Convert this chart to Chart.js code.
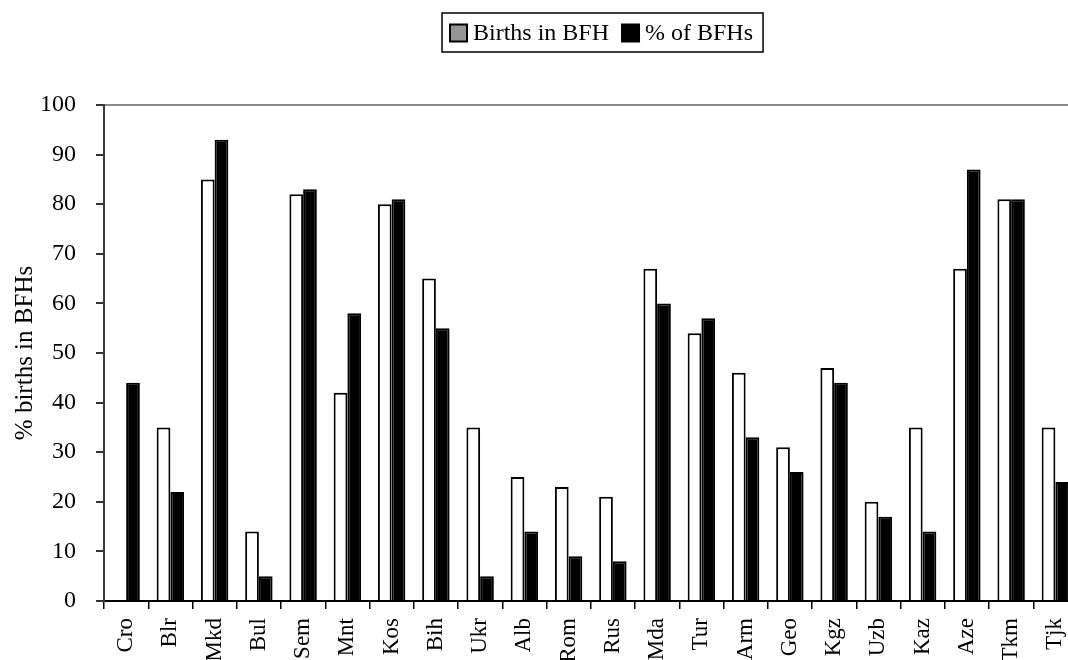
<!DOCTYPE html>
<html>
<head>
<meta charset="utf-8">
<script src="https://cdn.jsdelivr.net/npm/chart.js@4/dist/chart.umd.min.js"></script>
<style>
  html, body { margin: 0; padding: 0; background: #fff; overflow: hidden; }
  #wrap { width: 1068px; height: 660px; }
</style>
</head>
<body>
<div id="wrap"><canvas id="c" width="1068" height="660"></canvas></div>
<script>
// Countries (abbreviations) along the horizontal axis
const countries = ['Cro','Blr','Mkd','Bul','Sem','Mnt','Kos','Bih','Ukr','Alb','Rom',
                   'Rus','Mda','Tur','Arm','Geo','Kgz','Uzb','Kaz','Aze','Tkm','Tjk'];

// Share of births taking place in baby-friendly hospitals (%); Cro has no value
const birthsInBFH = [null, 35, 85, 14, 82, 42, 80, 65, 35, 25, 23,
                     21, 67, 54, 46, 31, 47, 20, 35, 67, 81, 35];

// Share of maternity hospitals designated baby-friendly (%)
const pctOfBFHs = [44, 22, 93, 5, 83, 58, 81, 55, 5, 14, 9,
                   8, 60, 57, 33, 26, 44, 17, 14, 87, 81, 24];

const seriesNames = ['Births in BFH', '% of BFHs'];
const yTicks = [0, 10, 20, 30, 40, 50, 60, 70, 80, 90, 100];

const FONT = "'Liberation Serif', 'Times New Roman', serif";
const legendSwatch = ['#959595', '#000000'];

// The plot area continues slightly past the right edge of the canvas
const PLOT_RIGHT = 1077.5;
const widePlot = {
  id: 'widePlot',
  afterLayout(chart) {
    const area = chart.chartArea;
    area.right = PLOT_RIGHT;
    area.width = PLOT_RIGHT - area.left;
    const x = chart.scales.x;
    x.right = PLOT_RIGHT;
    x.width = PLOT_RIGHT - x.left;
    x.configure();
  }
};

// Boxed legend drawn above the plot
const boxedLegend = {
  id: 'boxedLegend',
  afterDraw(chart) {
    const ctx = chart.ctx;
    ctx.save();
    ctx.font = '24px ' + FONT;
    ctx.textBaseline = 'middle';
    const top = 13, bottom = 52, midY = 33;
    const left = 442;
    let x = 450;
    const sw = 17;
    const ends = [];
    chart.data.datasets.forEach((ds, i) => {
      ctx.fillStyle = legendSwatch[i];
      ctx.strokeStyle = '#000';
      ctx.lineWidth = 2;
      ctx.beginPath();
      ctx.rect(x, midY - sw / 2, sw, sw);
      ctx.fill();
      ctx.stroke();
      x += sw + 6;
      ctx.fillStyle = '#000';
      ctx.textAlign = 'left';
      ctx.fillText(ds.label, x, midY + 1);
      x += ctx.measureText(ds.label).width;
      ends.push(x);
      x += 13;
    });
    const right = ends[ends.length - 1] + 10;
    ctx.strokeStyle = '#000';
    ctx.lineWidth = 1.5;
    ctx.strokeRect(left, top, right - left, bottom - top);
    ctx.restore();
  }
};

const barCommon = {
  borderColor: '#000000',
  borderWidth: 2,
  borderSkipped: 'bottom',
  categoryPercentage: 0.62,
  barPercentage: 1.0
};

new Chart(document.getElementById('c'), {
  type: 'bar',
  data: {
    labels: countries,
    datasets: [
      Object.assign({ label: seriesNames[0], data: birthsInBFH, backgroundColor: '#ffffff' }, barCommon),
      Object.assign({ label: seriesNames[1], data: pctOfBFHs, backgroundColor: '#000000' }, barCommon)
    ]
  },
  options: {
    responsive: false,
    devicePixelRatio: 1,
    animation: false,
    layout: { padding: { top: 105, right: 0, bottom: 0, left: 0 } },
    plugins: {
      legend: { display: false },
      tooltip: { enabled: false }
    },
    scales: {
      x: {
        offset: true,
        grid: {
          offset: true,
          drawOnChartArea: false,
          color: '#000',
          lineWidth: 1.5,
          tickLength: 8
        },
        border: { display: true, color: '#000', width: 2 },
        ticks: {
          autoSkip: false,
          minRotation: 90,
          maxRotation: 90,
          padding: 9,
          color: '#000',
          font: { family: FONT, size: 23 }
        },
        afterFit(scale) {
          scale.height = 59;
          scale.paddingLeft = 0;
          scale.paddingRight = 0;
        }
      },
      y: {
        min: 0,
        max: 100,
        afterBuildTicks(scale) { scale.ticks = yTicks.map(v => ({ value: v })); },
        grid: {
          drawOnChartArea: true,
          color: (c) => (c.tick && c.tick.value === 100 ? '#8a8a8a' : 'rgba(0,0,0,0)'),
          tickColor: '#333',
          lineWidth: 2,
          tickLength: 8
        },
        border: { display: true, color: '#3a3a3a', width: 2 },
        ticks: {
          padding: 20,
          color: '#000',
          font: { family: FONT, size: 24 }
        },
        title: {
          display: true,
          text: '% births in BFHs',
          color: '#000',
          padding: { top: 10, bottom: 0 },
          font: { family: FONT, size: 25 }
        },
        afterFit(scale) { scale.width = 104; }
      }
    }
  },
  plugins: [widePlot, boxedLegend]
});
</script>
</body>
</html>
